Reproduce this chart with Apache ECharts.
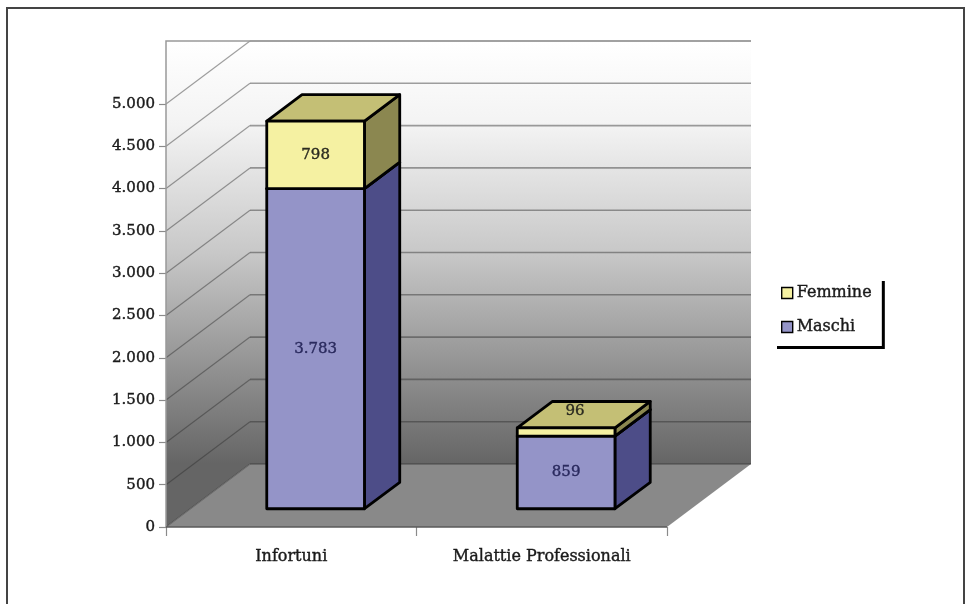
<!DOCTYPE html>
<html>
<head>
<meta charset="utf-8">
<script src="https://cdn.jsdelivr.net/npm/echarts@6/dist/echarts.min.js"></script>
<style>
  html, body { margin: 0; padding: 0; background: #fff; }
  #chart { width: 974px; height: 604px; }
</style>
</head>
<body>
<div id="chart"></div>
<script>
// Data
const categories = ['Infortuni', 'Malattie Professionali'];
const maschi = [3783, 859];
const femmine = [798, 96];
const yTicks = [0, 500, 1000, 1500, 2000, 2500, 3000, 3500, 4000, 4500, 5000];

// Oblique projection depth of the plot box (pixels) and bar placement in depth
const DEPTH_X = 84, DEPTH_Y = 63;
const BAR_FRONT = 0.29, BAR_BACK = 0.71;
const BAR_RATIO = 0.39;

const SERIF = '"DejaVu Serif", serif';

function fmt(v) {
  return String(v).replace(/\B(?=(\d{3})+(?!\d))/g, '.');
}

const colors = {
  Maschi:  { front: '#9494c8', side: '#4d4d88', top: '#7474ad', label: '#2a2a5e' },
  Femmine: { front: '#f5f1a2', side: '#8b8750', top: '#c4bf75', label: '#2b2b20' }
};

const chart = echarts.init(document.getElementById('chart'), null, { renderer: 'canvas' });

// Walls and floor of the 3D box, drawn on the grid's own scale
function renderWalls(params, api) {
  const cs = params.coordSys;
  const x0 = cs.x, x1 = cs.x + cs.width;
  const y0 = api.coord([0, 0])[1];
  const yMax = api.coord([0, yTicks[yTicks.length - 1]])[1];
  const yTop = yMax - DEPTH_Y;
  const grad = {
    type: 'linear', global: true, x: 0, y: yTop, x2: 0, y2: y0 - DEPTH_Y,
    colorStops: [
      { offset: 0, color: '#ffffff' },
      { offset: 0.2, color: '#f3f3f3' },
      { offset: 0.5, color: '#c8c8c8' },
      { offset: 1, color: '#656565' }
    ]
  };
  const gridColor = 'rgba(45,45,45,0.45)';
  const children = [];
  // back wall
  children.push({
    type: 'rect',
    shape: { x: x0 + DEPTH_X, y: yTop, width: cs.width, height: y0 - DEPTH_Y - yTop },
    style: { fill: grad }
  });
  // left wall
  children.push({
    type: 'polygon',
    shape: { points: [[x0, yTop], [x0 + DEPTH_X, yTop], [x0 + DEPTH_X, y0 - DEPTH_Y], [x0, y0]] },
    style: { fill: grad }
  });
  // floor
  children.push({
    type: 'polygon',
    shape: { points: [[x0, y0], [x0 + DEPTH_X, y0 - DEPTH_Y], [x1 + DEPTH_X, y0 - DEPTH_Y], [x1, y0]] },
    style: { fill: '#898989' }
  });
  // gridlines on back and left walls
  yTicks.forEach(function (v) {
    const y = api.coord([0, v])[1];
    children.push({
      type: 'line',
      shape: { x1: x0 + DEPTH_X, y1: y - DEPTH_Y, x2: x1 + DEPTH_X, y2: y - DEPTH_Y },
      style: { stroke: gridColor, lineWidth: 1.6 }
    });
    children.push({
      type: 'line',
      shape: { x1: x0, y1: y, x2: x0 + DEPTH_X, y2: y - DEPTH_Y },
      style: { stroke: gridColor, lineWidth: 1.2 }
    });
  });
  // outline of the box: top edge, left edge, front floor edge
  children.push({
    type: 'polyline',
    shape: { points: [[x1 + DEPTH_X, yTop], [x0, yTop], [x0, y0]] },
    style: { stroke: '#999', lineWidth: 1.5, fill: null }
  });
  children.push({
    type: 'line',
    shape: { x1: x0, y1: y0, x2: x1, y2: y0 },
    style: { stroke: '#5a5a5a', lineWidth: 1.6 }
  });
  return { type: 'group', children: children };
}

// One stacked segment of a 3D bar
function makeBarRenderer(name) {
  const c = colors[name];
  return function (params, api) {
    const cat = api.value(0), base = api.value(1), top = api.value(2), val = api.value(3);
    const pB = api.coord([cat, base]);
    const pT = api.coord([cat, top]);
    const bw = api.size([1, 0])[0] * BAR_RATIO;
    const fx = DEPTH_X * BAR_FRONT, fy = DEPTH_Y * BAR_FRONT;
    const ddx = DEPTH_X * (BAR_BACK - BAR_FRONT), ddy = DEPTH_Y * (BAR_BACK - BAR_FRONT);
    const xL = pB[0] - bw / 2 + fx, xR = xL + bw;
    const yB = pB[1] - fy, yT = pT[1] - fy;
    const stroke = { stroke: '#000', lineWidth: 2.8, lineJoin: 'round' };
    const children = [
      { type: 'polygon', shape: { points: [[xR, yB], [xR + ddx, yB - ddy], [xR + ddx, yT - ddy], [xR, yT]] },
        style: Object.assign({ fill: c.side }, stroke) },
      { type: 'polygon', shape: { points: [[xL, yT], [xR, yT], [xR + ddx, yT - ddy], [xL + ddx, yT - ddy]] },
        style: Object.assign({ fill: c.top }, stroke) },
      { type: 'rect', shape: { x: xL, y: yT, width: bw, height: yB - yT },
        style: Object.assign({ fill: c.front }, stroke) }
    ];
    let lx = (xL + xR) / 2, ly = (yT + yB) / 2;
    if (yB - yT < 20) { lx += ddx / 4; ly = yT - ddy * 0.65; }
    children.push({
      type: 'text', x: lx, y: ly,
      style: {
        text: fmt(val), fill: c.label, fontSize: 15, fontFamily: SERIF,
        align: 'center', verticalAlign: 'middle',
        stroke: c.label, lineWidth: 0.4
      }
    });
    return { type: 'group', children: children };
  };
}

const maschiData = categories.map(function (c, i) { return [i, 0, maschi[i], maschi[i]]; });
const femmineData = categories.map(function (c, i) { return [i, maschi[i], maschi[i] + femmine[i], femmine[i]]; });

const axisText = { fontFamily: SERIF, color: '#1a1a1a', textBorderColor: '#1a1a1a', textBorderWidth: 0.4 };

chart.setOption({
  backgroundColor: '#ffffff',
  animation: false,
  grid: { left: 166, right: 307, top: 104, bottom: 77, containLabel: false },
  graphic: [{
    type: 'rect', z: 100,
    shape: { x: 7, y: 8, width: 957, height: 620 },
    style: { fill: null, stroke: '#444', lineWidth: 2 }
  }],
  legend: {
    data: ['Femmine', 'Maschi'],
    orient: 'vertical',
    left: 774, top: 278,
    padding: [5, 10, 9, 7],
    itemGap: 14,
    itemWidth: 11, itemHeight: 11,
    icon: 'rect',
    itemStyle: { borderColor: '#000', borderWidth: 1.4 },
    backgroundColor: '#ffffff',
    shadowColor: '#000', shadowBlur: 0, shadowOffsetX: 3, shadowOffsetY: 3,
    textStyle: Object.assign({ fontSize: 16, lineHeight: 20, padding: [0, 0, 0, -1] }, axisText)
  },
  xAxis: {
    type: 'category',
    data: categories,
    boundaryGap: true,
    axisLine: { show: false },
    axisTick: { show: true, length: 9, lineStyle: { color: '#8a8a8a', width: 1.2 } },
    axisLabel: Object.assign({ margin: 22, fontSize: 16 }, axisText),
    splitLine: { show: false }
  },
  yAxis: {
    type: 'value',
    min: 0, max: 5000, interval: 500,
    axisLine: { show: false },
    axisTick: { show: true, length: 7, lineStyle: { color: '#8a8a8a', width: 1.2 } },
    axisLabel: Object.assign({ margin: 11, fontSize: 15, formatter: fmt }, axisText),
    splitLine: { show: false }
  },
  series: [
    {
      type: 'custom', name: 'walls', z: 1, silent: true,
      renderItem: renderWalls,
      data: [[0, 0]],
      encode: { x: 0, y: 1 }
    },
    {
      type: 'custom', name: 'Maschi', z: 3,
      itemStyle: { color: colors.Maschi.front },
      renderItem: makeBarRenderer('Maschi'),
      data: maschiData,
      encode: { x: 0, y: [1, 2] }
    },
    {
      type: 'custom', name: 'Femmine', z: 4,
      itemStyle: { color: colors.Femmine.front },
      renderItem: makeBarRenderer('Femmine'),
      data: femmineData,
      encode: { x: 0, y: [1, 2] }
    }
  ]
});
</script>
</body>
</html>
